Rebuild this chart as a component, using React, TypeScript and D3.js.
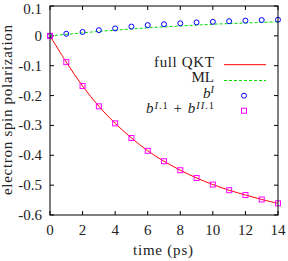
import React from "react";
import * as d3 from "d3";

const times = [0, 1, 2, 3, 4, 5, 6, 7, 8, 9, 10, 11, 12, 13, 14];
const bI = [0, 0.007, 0.013, 0.019, 0.025, 0.031, 0.036, 0.039, 0.042, 0.045, 0.047, 0.049, 0.051, 0.053, 0.054];
const mlValues = [0, 0.005, 0.010, 0.015, 0.019, 0.023, 0.027, 0.030, 0.033, 0.036, 0.039, 0.041, 0.043, 0.045, 0.047];
const bI1II1 = [0, -0.088, -0.168, -0.236, -0.293, -0.342, -0.385, -0.420, -0.450, -0.476, -0.498, -0.517, -0.533, -0.548, -0.561];
const qkt = [0, -0.088, -0.168, -0.236, -0.293, -0.342, -0.385, -0.420, -0.450, -0.476, -0.498, -0.517, -0.533, -0.548, -0.561];
const xTicks = [0, 2, 4, 6, 8, 10, 12, 14];
const yTicks = [0.1, 0, -0.1, -0.2, -0.3, -0.4, -0.5, -0.6];

const FONT = "'Liberation Serif', 'DejaVu Serif', serif";

export default function App() {
  const W = 288, H = 261;
  const L = 50, R = 278, T = 6, B = 215;
  const x = d3.scaleLinear().domain([0, 14]).range([L, R]);
  const y = d3.scaleLinear().domain([-0.6, 0.1]).range([B, T]);
  const line = (vals: number[]) =>
    d3.line<number>().x((_, i) => x(times[i])).y((v) => y(v)).curve(d3.curveCatmullRom)(vals) || "";
  const fmt = (v: number) => (v === 0 ? "0" : v.toFixed(1));
  const tl = 4;
  const fs = 15;
  return (
    <svg width={W} height={H} style={{ position: "absolute", left: 0, top: 0 }} fontFamily={FONT}>
      <rect width={W} height={H} fill="#fff" />
      {xTicks.map((t) => (
        <g key={"x" + t}>
          <line x1={x(t)} x2={x(t)} y1={B} y2={B - tl} stroke="#000" strokeWidth={1} />
          <line x1={x(t)} x2={x(t)} y1={T} y2={T + tl} stroke="#000" strokeWidth={1} />
          <text x={x(t)} y={235} textAnchor="middle" fontSize={fs} fill="#222">{t}</text>
        </g>
      ))}
      {yTicks.map((t) => (
        <g key={"y" + t}>
          <line x1={L} x2={L + tl} y1={y(t)} y2={y(t)} stroke="#000" strokeWidth={1} />
          <line x1={R} x2={R - tl} y1={y(t)} y2={y(t)} stroke="#000" strokeWidth={1} />
          <text x={42} y={Math.max(y(t) + 5, 13.5)} textAnchor="end" fontSize={fs} fill="#222">{fmt(t)}</text>
        </g>
      ))}
      <path d={line(qkt)} fill="none" stroke="#ff0000" strokeWidth={1} />
      <path d={line(mlValues)} fill="none" stroke="#00e000" strokeWidth={1} strokeDasharray="3,2" />
      {bI.map((v, i) => (
        <circle key={"c" + i} cx={x(times[i])} cy={y(v)} r={2.5} fill="none" stroke="#0000ff" strokeWidth={1} />
      ))}
      {bI1II1.map((v, i) => (
        <rect key={"s" + i} x={x(times[i]) - 2.5} y={y(v) - 2.5} width={5} height={5} fill="none" stroke="#ff00ff" strokeWidth={1} />
      ))}
      <rect x={L} y={T} width={R - L} height={B - T} fill="none" stroke="#000" strokeWidth={1} />
      <text x={163} y={255} textAnchor="middle" fontSize={fs} fill="#222" textLength={60} lengthAdjust="spacing">time (ps)</text>
      <text transform={`translate(12,110) rotate(-90)`} textAnchor="middle" fontSize={fs} fill="#222" textLength={170} lengthAdjust="spacing">
        electron spin polarization
      </text>
      <g fontSize={fs} fill="#222">
        <text x={214} y={67} textAnchor="end" textLength={60} lengthAdjust="spacing">full QKT</text>
        <line x1={224} x2={266} y1={64.7} y2={64.7} stroke="#ff0000" strokeWidth={1} />
        <text x={214} y={82} textAnchor="end">ML</text>
        <line x1={224} x2={266} y1={80.5} y2={80.5} stroke="#00e000" strokeWidth={1} strokeDasharray="3,2" />
        <text x={214} y={98} textAnchor="end">
          <tspan fontStyle="italic">b</tspan>
          <tspan fontSize={10.5} fontStyle="italic" dy={-5}>I</tspan>
        </text>
        <circle cx={244} cy={95.7} r={2.5} fill="none" stroke="#0000ff" strokeWidth={1} />
        <text x={214} y={113} textAnchor="end" textLength={68} lengthAdjust="spacing">
          <tspan fontStyle="italic">b</tspan>
          <tspan fontSize={10.5} dy={-4.5}><tspan fontStyle="italic">I</tspan>.1</tspan>
          <tspan dy={4.5}>{" + "}</tspan>
          <tspan fontStyle="italic">b</tspan>
          <tspan fontSize={10.5} dy={-4.5}><tspan fontStyle="italic">II</tspan>.1</tspan>
        </text>
        <rect x={241.5} y={108.2} width={5} height={5} fill="none" stroke="#ff00ff" strokeWidth={1} />
      </g>
    </svg>
  );
}
